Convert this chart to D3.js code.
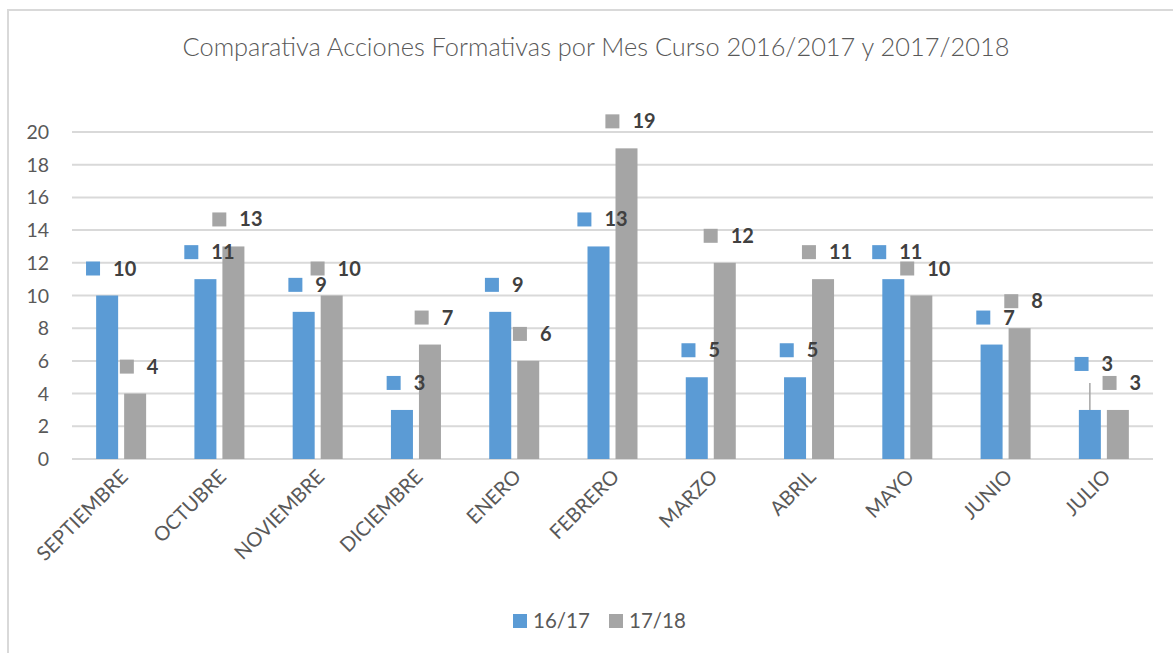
<!DOCTYPE html>
<html>
<head>
<meta charset="utf-8">
<script src="https://cdn.jsdelivr.net/npm/d3@7"></script>
<style>
  body { margin: 0; background: #fff; }
  text { font-family: Lato, 'Open Sans', sans-serif; }
</style>
</head>
<body>
<div id="chart"></div>
<script>
const months = ['SEPTIEMBRE', 'OCTUBRE', 'NOVIEMBRE', 'DICIEMBRE', 'ENERO', 'FEBRERO', 'MARZO', 'ABRIL', 'MAYO', 'JUNIO', 'JULIO']
const series = ['16/17', '17/18']
const values1617 = [10, 11, 9, 3, 9, 13, 5, 5, 11, 7, 3]
const values1718 = [4, 13, 10, 7, 6, 19, 12, 11, 10, 8, 3]
const yTicks = [0, 2, 4, 6, 8, 10, 12, 14, 16, 18, 20]
const colors = { '16/17': '#5b9bd5', '17/18': '#a5a5a5' }

const width = 1173
const height = 653

const svg = d3.select('#chart')
  .append('svg')
  .attr('width', width)
  .attr('height', height)

// chart frame (runs off the right/bottom edge like the original)
svg.append('rect')
  .attr('x', 8)
  .attr('y', 10)
  .attr('width', 1200)
  .attr('height', 700)
  .attr('fill', 'none')
  .attr('stroke', '#d9d9d9')
  .attr('stroke-width', 2)

svg.append('text')
  .text('Comparativa Acciones Formativas por Mes Curso 2016/2017 y 2017/2018')
  .attr('x', 596)
  .attr('y', 56)
  .attr('text-anchor', 'middle')
  .attr('font-size', 25.4)
  .attr('font-weight', 300)
  .attr('fill', '#595959')

const x0 = d3.scaleBand().domain(months).range([72, 1153])
const x1 = d3.scaleBand().domain(series).range([0, 50]).paddingInner(0.2143)
const groupOffset = (x0.bandwidth() - 50) / 2
const y = d3.scaleLinear().domain([0, 20]).range([459, 132])

// gridlines + y labels
const yAxis = svg.append('g')
yAxis.selectAll('line')
  .data(yTicks)
  .enter()
  .append('line')
  .attr('x1', 72)
  .attr('x2', 1153)
  .attr('y1', d => y(d))
  .attr('y2', d => y(d))
  .attr('stroke', '#d9d9d9')
  .attr('stroke-width', 2)

yAxis.selectAll('text')
  .data(yTicks)
  .enter()
  .append('text')
  .text(d => d)
  .attr('x', 49)
  .attr('y', d => y(d))
  .attr('dy', '0.36em')
  .attr('text-anchor', 'end')
  .attr('font-size', 19.5)
  .attr('fill', '#595959')

const data = months.map((m, i) => ({
  month: m,
  vals: [
    { key: '16/17', value: values1617[i] },
    { key: '17/18', value: values1718[i] }
  ]
}))

const groups = svg.selectAll('.grp')
  .data(data)
  .enter()
  .append('g')
  .attr('class', 'grp')
  .attr('transform', d => `translate(${x0(d.month) + groupOffset},0)`)

groups.selectAll('rect')
  .data(d => d.vals)
  .enter()
  .append('rect')
  .attr('x', d => x1(d.key))
  .attr('width', x1.bandwidth())
  .attr('y', d => y(d.value))
  .attr('height', d => y(0) - y(d.value))
  .attr('fill', d => colors[d.key])

// data labels with legend key, like excel
groups.each(function(g) {
  const grp = d3.select(this)
  g.vals.forEach(d => {
    const cx = x1(d.key) + x1.bandwidth() / 2
    let cy = y(d.value) - 27
    // JULIO 16/17 label was pushed up with a leader line
    if (g.month === 'JULIO' && d.key === '16/17') {
      cy -= 19
      grp.append('line')
        .attr('x1', cx).attr('x2', cx)
        .attr('y1', cy + 19).attr('y2', y(d.value))
        .attr('stroke', '#a5a5a5')
        .attr('stroke-width', 1.5)
    }
    const t = grp.append('text')
      .text(d.value)
      .attr('font-size', 20)
      .attr('font-weight', 'bold')
      .attr('fill', '#404040')
    const tw = t.node().getComputedTextLength()
    const left = cx - (14 + 13 + tw) / 2 + 4
    t.attr('x', left + 27).attr('y', cy + 7)
    grp.append('rect')
      .attr('x', left)
      .attr('y', cy - 7)
      .attr('width', 14)
      .attr('height', 14)
      .attr('fill', colors[d.key])
  })
})

// x labels
svg.selectAll('.xlab')
  .data(months)
  .enter()
  .append('text')
  .attr('class', 'xlab')
  .text(d => d)
  .attr('text-anchor', 'end')
  .attr('font-size', 20)
  .attr('fill', '#595959')
  .attr('transform', d => `translate(${x0(d) + x0.bandwidth() / 2 + 8},${478}) rotate(-45)`)

// legend
const legend = svg.append('g')
series.forEach((s, i) => {
  const lx = 513 + i * 96
  legend.append('rect')
    .attr('x', lx)
    .attr('y', 614)
    .attr('width', 14)
    .attr('height', 14)
    .attr('fill', colors[s])
  legend.append('text')
    .text(s)
    .attr('x', lx + 20)
    .attr('y', 628)
    .attr('font-size', 20.5)
    .attr('fill', '#595959')
})
</script>
</body>
</html>
